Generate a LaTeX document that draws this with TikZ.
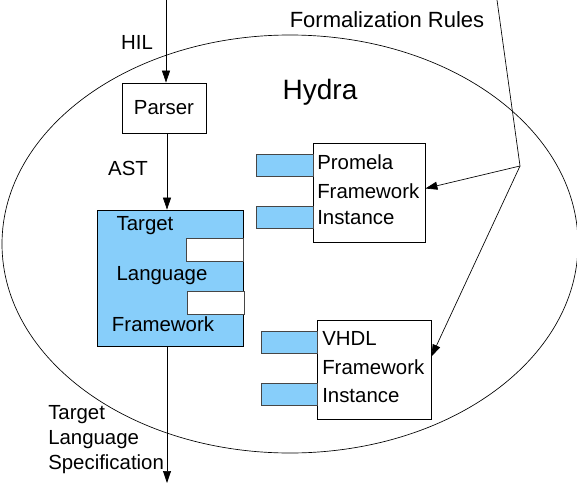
\documentclass[tikz,border=0pt]{standalone}
\usepackage{fontspec}
\setmainfont{Liberation Sans}
\usetikzlibrary{arrows.meta,calc}
\definecolor{tabblue}{RGB}{135,206,250}
\definecolor{tabline}{RGB}{70,70,70}
\tikzset{
  box/.style={draw=black, fill=white, line width=0.6pt, inner sep=0pt},
  bluebox/.style={box, fill=tabblue},
  tab/.style={draw=tabline, fill=tabblue, line width=0.6pt},
  hole/.style={draw=tabline, fill=white, line width=0.6pt},
  lbl/.style={font=\fontsize{15.3}{18}\selectfont, inner sep=0pt},
  flow/.style={line width=0.5pt, -{Triangle[length=9pt,width=6pt]}}
}
\begin{document}
\begin{tikzpicture}[x=0.75pt,y=-0.75pt]
        \useasboundingbox (0,0) rectangle (577,485);
        \draw[line width=0.5pt] (290,244) ellipse [x radius=288, y radius=209];
        \node[lbl, font=\fontsize{21}{25}\selectfont] (hydra) at (320,92) {Hydra};
        % parser and target language framework
        \node[box, minimum width=63pt, minimum height=37.5pt] (parser) at (164,108) {};
        \node[lbl] (parsertxt) at (164,108) {Parser};
        \node[bluebox, minimum width=109.5pt, minimum height=102pt] (target) at (170,278) {};
        \draw[hole] (186,238) rectangle (243,261);
        \draw[hole] (187,291) rectangle (244,314);
        \node[lbl] (tgt1) at (145,226) {Target};
        \node[lbl] (tgt2) at (162,276) {Language};
        \node[lbl] (tgt3) at (163,324) {Framework};
        % promela instance
        \node[box, minimum width=84pt, minimum height=74.25pt] (promela) at (369,192.5) {};
        \draw[tab] (256,154) rectangle (313,176);
        \draw[tab] (256,206) rectangle (313,228);
        \node[lbl, anchor=west] (pro1) at (317,162) {Promela};
        \node[lbl, anchor=west] (pro2) at (317,191) {Framework};
        \node[lbl, anchor=west] (pro3) at (317,218) {Instance};
        % vhdl instance
        \node[box, minimum width=85.5pt, minimum height=74.25pt] (vhdl) at (374,369.5) {};
        \draw[tab] (261,331) rectangle (317,353);
        \draw[tab] (261,383) rectangle (317,405);
        \node[lbl, anchor=west] (vh1) at (322,338) {VHDL};
        \node[lbl, anchor=west] (vh2) at (322,367) {Framework};
        \node[lbl, anchor=west] (vh3) at (322,396) {Instance};
        % flow of the specification
        \coordinate (hilin) at (166,0);
        \coordinate (specout) at (167,483);
        \draw[flow] (hilin) -- (parser.north -| hilin);
        \draw[flow] (parser.south -| 167,0) -- (target.north -| 167,0);
        \draw[flow] (target.south -| specout) -- (specout);
        \node[lbl] (hil) at (137,42) {HIL};
        \node[lbl] (ast) at (128,168) {AST};
        \node[lbl, anchor=west, align=left, font=\fontsize{15.3}{18.75}\selectfont] (spec) at (48,440) {Target\\Language\\Specification};
        % formalization rules
        \node[lbl, font=\fontsize{16.5}{19}\selectfont] (rules) at (387,20) {Formalization Rules};
        \coordinate (rulesin) at (497,0);
        \coordinate (rulesjoin) at (520,166);
        \draw[line width=0.5pt] (rulesin) -- (rulesjoin);
        \draw[flow] (rulesjoin) -- ([yshift=3pt]promela.east);
        \draw[flow] (rulesjoin) -- ($(vhdl.north east)!0.37!(vhdl.south east)$);
\end{tikzpicture}
\end{document}
